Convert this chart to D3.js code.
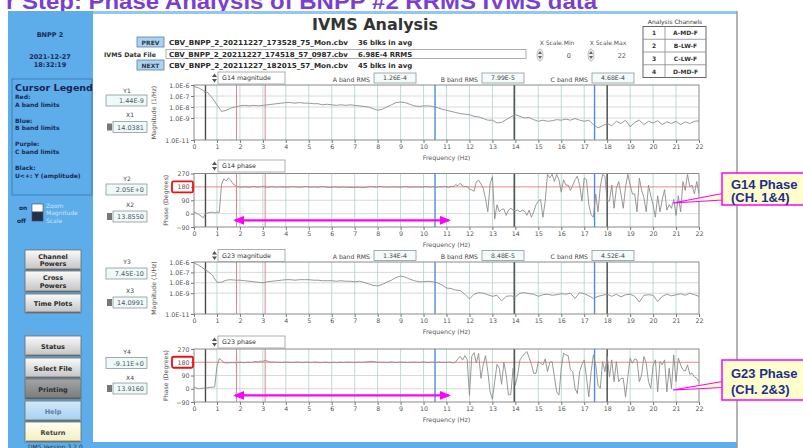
<!DOCTYPE html>
<html>
<head>
<meta charset="utf-8">
<script src="https://cdn.jsdelivr.net/npm/d3@7/dist/d3.min.js"></script>
<style>
  body { margin: 0; background: #fff; overflow: hidden; }
  svg { display: block; font-family: "DejaVu Sans", Verdana, sans-serif; }
</style>
</head>
<body>
<svg id="chart" width="803" height="448"></svg>
<script>
// ---------- data ----------
const freqTicks = [0,1,2,3,4,5,6,7,8,9,10,11,12,13,14,15,16,17,18,19,20,21,22];
const magTicks = [1e-6, 1e-7, 1e-8, 1e-9, 1e-11];
const magTickLabels = ['1.0E-6','1.0E-7','1.0E-8','1.0E-9','1.0E-11'];
const phaseTicks = [270, 180, 90, 0, -90];
const magStep = 0.2;   // Hz between magnitude samples
const phaseStep = 0.1; // Hz between phase samples

// log10 of magnitude, 0..22 Hz every 0.2 Hz
const g14MagExp = [
  -6.15,-6.25,-6.5,-6.7,-7.2,-7.8,-8.4,-8.3,-8.1,-8.0,
  -7.9,-7.85,-7.9,-7.85,-7.9,-7.85,-7.8,-7.75,-7.7,-7.65,
  -7.6,-7.6,-7.65,-7.6,-7.65,-7.65,-7.7,-7.7,-7.8,-7.75,
  -7.8,-7.85,-7.8,-7.85,-7.8,-7.85,-7.9,-7.95,-8.0,-8.15,
  -8.3,-8.2,-8.0,-7.8,-7.6,-7.55,-7.6,-7.75,-7.9,-7.95,
  -7.9,-7.9,-7.95,-8.05,-8.2,-8.3,-8.4,-8.5,-8.6,-8.65,
  -8.7,-8.85,-8.9,-9.05,-9.2,-9.2,-9.45,-9.4,-9.15,-8.9,
  -8.7,-8.85,-9.0,-8.95,-9.15,-9.3,-9.2,-9.3,-9.25,-9.15,
  -9.2,-9.1,-9.2,-9.05,-9.2,-9.3,-9.2,-9.6,-9.9,-9.7,
  -9.5,-9.7,-9.3,-9.5,-9.2,-9.8,-9.4,-9.2,-9.6,-9.3,
  -9.45,-9.25,-9.6,-9.35,-9.5,-9.3,-9.6,-9.35,-9.5,-9.3,
  -9.25
];
const g23MagExp = [
  -6.1,-6.3,-6.6,-6.9,-7.25,-7.95,-7.95,-7.75,-7.7,-7.75,
  -7.75,-7.8,-7.85,-7.9,-7.95,-8.0,-7.9,-7.85,-7.8,-7.75,
  -7.7,-7.7,-7.75,-7.7,-7.7,-7.7,-7.75,-7.75,-7.8,-7.8,
  -7.8,-7.85,-7.8,-7.85,-7.85,-7.9,-7.85,-7.95,-8.1,-8.25,
  -8.3,-8.15,-7.95,-7.75,-7.5,-7.35,-7.45,-7.65,-7.8,-7.9,
  -7.9,-7.85,-7.9,-8.0,-8.2,-8.5,-8.55,-8.7,-8.75,-9.1,
  -9.55,-9.1,-8.95,-9.0,-9.15,-9.3,-9.2,-9.75,-9.3,-9.25,
  -9.35,-9.0,-8.95,-9.05,-9.1,-9.3,-9.15,-9.1,-9.2,-9.15,
  -9.05,-9.1,-9.0,-9.5,-8.95,-9.05,-9.25,-9.5,-9.3,-9.2,
  -9.1,-9.3,-9.1,-9.35,-9.15,-9.1,-9.3,-9.85,-9.2,-9.15,
  -9.2,-9.8,-9.3,-9.1,-9.25,-9.15,-9.05,-9.2,-9.0,-9.15,
  -9.3
];

// phase in degrees, 0..22 Hz every 0.1 Hz
const g14Phase = [
  10,5,-5,-15,-28,0,5,8,10,5,
  10,8,195,235,220,240,225,200,188,182,
  180,178,182,180,177,180,183,180,178,181,
  184,180,177,180,182,180,178,180,181,179,
  180,178,180,182,180,179,177,180,181,183,
  180,178,180,179,177,180,182,180,178,176,
  178,180,179,177,178,180,178,176,177,175,
  176,178,177,175,176,178,180,182,180,178,
  180,183,181,179,180,178,180,181,179,180,
  178,180,182,180,178,180,179,181,180,178,
  180,182,180,178,181,180,176,182,178,184,
  180,177,185,180,195,188,205,185,182,183,
  165,160,150,215,225,
  200,170,100,12,200,250,-36,60,12,29,
  31,-12,24,36,24,17,24,12,24,17,
  -12,24,-24,12,60,84,96,-24,84,264,
  240,265,216,264,228,144,228,192,192,156,
  192,228,252,192,84,240,228,60,-7,-24,
  132,12,180,264,252,84,84,192,36,168,
  216,132,36,180,265,192,132,132,12,240,
  156,108,12,192,120,60,-24,120,12,96,
  161,24,60,36,96,-12,120,12,216,156,
  264,180,192,132,216,132
];
const g23Phase = [
  12,5,0,2,5,5,8,10,10,12,
  150,205,195,178,175,176,177,178,176,178,
  180,178,177,179,180,178,182,185,182,188,
  186,193,188,182,180,182,179,180,178,180,
  181,179,180,178,180,182,180,178,179,181,
  180,178,180,181,179,177,178,180,179,176,
  178,180,177,179,180,178,180,181,179,180,
  178,180,181,179,180,182,184,186,185,182,
  180,181,179,180,178,180,182,180,178,180,
  181,179,180,178,180,179,181,180,178,180,
  182,180,178,180,181,179,180,182,178,180,
  177,182,178,175,182,205,220,195,225,200,
  -45,220,245,175,240,
  71,162,225,116,-21,-71,48,166,139,30,
  180,93,-43,-39,139,25,93,196,219,237,
  253,212,166,105,105,185,173,162,203,116,
  180,185,82,-21,-43,139,242,230,225,128,
  116,2,-32,116,166,196,75,-55,116,230,
  162,25,2,185,116,219,82,196,48,185,
  48,71,71,-55,82,207,173,203,196,48,
  93,219,173,48,2,157,196,-21,185,162,
  196,-21,139,2,230,48,207,162,128,121,
  162,98,105,82,71,48
];

const plotNames = ['G14 magnitude', 'G14 phase', 'G23 magnitude', 'G23 phase'];
const rmsLabels = ['A band RMS', 'B band RMS', 'C band RMS'];
const g14Rms = ['1.26E-4', '7.99E-5', '4.68E-4'];
const g23Rms = ['1.34E-4', '8.48E-5', '4.52E-4'];
const cursorYNames = ['Y1', 'Y2', 'Y3', 'Y4'];
const cursorYValues = ['1.44E-9', '2.05E+0', '7.45E-10', '-9.11E+0'];
const cursorXNames = ['X1', 'X2', 'X3', 'X4'];
const cursorXValues = ['14.0381', '13.8550', '14.0991', '13.9160'];
const cursorFreqs = [0.5, 1.85, 3.1, 10.5, 13.95, 17.45, 18.0];
const cursorKinds = ['black', 'red', 'red', 'blue', 'black', 'blue', 'black'];
const bandArrow = [1.8, 11.1];   // Hz, highlighted flat band
const arrowPhase = -45;          // deg, height of the arrow
const channelNums = ['1', '2', '3', '4'];
const channelNames = ['A-MD-F', 'B-LW-F', 'C-LW-F', 'D-MD-F'];
const fileNames = ['CBV_BNPP_2_20211227_173528_75_Mon.cbv', 'CBV_BNPP_2_20211227_174518_57_0987.cbv', 'CBV_BNPP_2_20211227_182015_57_Mon.cbv'];
const fileNotes = ['36 blks in avg', '6.98E-4 RRMS', '45 blks in avg'];
const legendLines = ['Red:', 'A band limits', 'Blue:', 'B band limits', 'Purple:', 'C band limits', 'Black:', 'U<+: Y (amplitude)'];
const buttonsTop = [['Channel', 'Powers'], ['Cross', 'Powers'], ['Time Plots']];
const buttonsBottom = ['Status', 'Select File', 'Printing', 'Help', 'Return'];

// ---------- drawing ----------
const svg = d3.select('#chart');
const defs = svg.append('defs');
const blue = '#5dadea';

const grad = (id, c1, c2) => {
  const g = defs.append('linearGradient').attr('id', id)
    .attr('x1', 0).attr('y1', 0).attr('x2', 0).attr('y2', 1);
  g.append('stop').attr('offset', '0%').attr('stop-color', c1);
  g.append('stop').attr('offset', '100%').attr('stop-color', c2);
};
grad('btnGrey', '#fbfbfb', '#c2c2c2');
grad('btnDark', '#a4a4a4', '#7a7a7a');
grad('btnHelp', '#d2e9f8', '#a6d0ee');
grad('btnReturn', '#fffff2', '#f3eec0');

const txt = (x, y, s, size, fill = '#333', weight = 'normal', anchor = 'start') =>
  svg.append('text').attr('x', x).attr('y', y).attr('font-size', size)
    .attr('fill', fill).attr('font-weight', weight).attr('text-anchor', anchor).text(s);
const rect = (x, y, w, h, fill, stroke = 'none', sw = 1) =>
  svg.append('rect').attr('x', x).attr('y', y).attr('width', w).attr('height', h)
    .attr('fill', fill).attr('stroke', stroke).attr('stroke-width', sw);

// slide title (cut off at the top)
txt(6, 9, 'r Step: Phase Analysis of BNPP #2 RRMS IVMS data', 22, '#7b3fd0', 'bold')
  .attr('font-family', 'Liberation Sans, Arial, sans-serif')
  .attr('textLength', 591).attr('lengthAdjust', 'spacingAndGlyphs');

// application window
rect(8, 11, 729, 437, '#fff');
rect(8, 11, 729, 3, '#8fc9f1');
rect(8, 11, 85, 437, blue);
rect(8, 442, 729, 6, blue);
svg.append('line').attr('x1', 737).attr('x2', 737).attr('y1', 11).attr('y2', 448)
  .attr('stroke', '#9a9a9a').attr('stroke-width', 1.5);

txt(50, 37, 'BNPP 2', 6.5, '#1c2a55', 'bold', 'middle');
txt(50, 59, '2021-12-27', 6.5, '#1c2a55', 'bold', 'middle');
txt(50, 67, '18:32:19', 6.5, '#1c2a55', 'bold', 'middle');

// cursor legend
rect(12, 79, 80, 116, blue, '#3f80b9', 1);
txt(15, 91, 'Cursor Legend', 9.5, '#1a2550', 'bold');
const legendY = [99, 106.5, 122.5, 130, 146, 153.5, 170, 178];
legendLines.forEach((s, i) => txt(15, legendY[i], s, 6, '#1c2a55', 'bold'));

// zoom switch
txt(19, 210, 'on', 6, '#1c2a55', 'bold');
txt(17, 223, 'off', 6, '#1c2a55', 'bold');
rect(32, 204, 11, 8, '#fff', '#446', 0.6);
rect(32, 212, 11, 9, '#263045', '#446', 0.6);
['Zoom', 'Magnitude', 'Scale'].forEach((s, i) => txt(46, 208 + i * 7.3, s, 6, '#d4e2f0'));

// buttons
const button = (y, h, lines, fill, color) => {
  rect(25, y, 56, h, `url(#${fill})`, '#6a6a6a', 0.8);
  svg.append('line').attr('x1', 26).attr('x2', 80).attr('y1', y + h - 0.8).attr('y2', y + h - 0.8)
    .attr('stroke', '#555').attr('stroke-width', 1);
  lines.forEach((s, i) => txt(53, y + h / 2 + 2.5 + (i - (lines.length - 1) / 2) * 7.5, s, 6.5, color, 'bold', 'middle'));
};
const topBtnY = [[250, 20], [271, 21], [294, 19]];
buttonsTop.forEach((b, i) => button(topBtnY[i][0], topBtnY[i][1], b, 'btnGrey', '#2a2a2a'));
const botBtnY = [336, 358, 379, 401, 422];
const botBtnFill = ['btnGrey', 'btnGrey', 'btnDark', 'btnHelp', 'btnReturn'];
const botBtnColor = ['#2a2a2a', '#2a2a2a', '#2a2a2a', '#5a7fa8', '#444'];
buttonsBottom.forEach((b, i) => button(botBtnY[i], 20, [b], botBtnFill[i], botBtnColor[i]));
txt(28, 449, 'DMS Version 3.2.0', 6, '#333');

// header
txt(375, 30, 'IVMS Analysis', 16, '#333', 'bold', 'middle')
  .attr('textLength', 126).attr('lengthAdjust', 'spacingAndGlyphs');
const fileY = [45, 56.5, 68];
rect(137, 37, 27, 10, '#a8d4f2', '#5e7f9c', 0.8);
txt(150.5, 44.5, 'PREV', 6, '#334', 'bold', 'middle');
rect(137, 60, 27, 10, '#a8d4f2', '#5e7f9c', 0.8);
txt(150.5, 67.5, 'NEXT', 6, '#334', 'bold', 'middle');
txt(104, 56.5, 'IVMS Data File', 6.3, '#333', 'bold');
rect(166, 49.5, 360, 9, '#fff', '#999', 0.8);
fileNames.forEach((s, i) => {
  txt(169, fileY[i], s, 6.9, '#2a2a2a', 'bold').attr('textLength', 179).attr('lengthAdjust', 'spacingAndGlyphs');
  txt(358, fileY[i], fileNotes[i], 6.9, '#2a2a2a', 'bold');
});

// x scale controls
txt(557, 45, 'X Scale.Min', 6, '#555', 'normal', 'middle');
txt(608, 45, 'X Scale.Max', 6, '#555', 'normal', 'middle');
const spinner = (cx, cy) => {
  svg.append('ellipse').attr('cx', cx).attr('cy', cy).attr('rx', 3).attr('ry', 6)
    .attr('fill', '#eee').attr('stroke', '#999').attr('stroke-width', 0.6);
  svg.append('path').attr('d', `M${cx - 2},${cy - 1} l2,-3 l2,3 z M${cx - 2},${cy + 1} l2,3 l2,-3 z`).attr('fill', '#666');
};
spinner(540, 55);
spinner(591, 55);
txt(571, 58, '0', 6.5, '#555', 'normal', 'end');
txt(626, 58, '22', 6.5, '#555', 'normal', 'end');

// analysis channels table
txt(675, 23.5, 'Analysis Channels', 6, '#333', 'normal', 'middle');
rect(643, 26.5, 63, 51, '#fff', '#666', 1);
channelNums.forEach((n, i) => {
  const y = 26.5 + i * 12.75;
  if (i > 0) svg.append('line').attr('x1', 643).attr('x2', 706).attr('y1', y).attr('y2', y).attr('stroke', '#888').attr('stroke-width', 0.8);
  txt(654, y + 8.8, n, 6, '#333', 'bold', 'middle');
  txt(685.5, y + 8.8, channelNames[i], 6, '#333', 'bold', 'middle');
});
svg.append('line').attr('x1', 665).attr('x2', 665).attr('y1', 26.5).attr('y2', 77.5).attr('stroke', '#888').attr('stroke-width', 0.8);

// ---------- plots ----------
const x = d3.scaleLinear().domain([0, 22]).range([194, 699]);
const plotTop = [85, 173.5, 262, 349];
const plotBottom = [140, 227, 314, 402];
const nameBoxTop = [72, 160, 249.5, 336];
const rmsBoxTop = [73, null, 250.5, null];
const yLabelY = [93, 181, 264, 354];
const yBoxTop = [95, 184, 268, 357.5];
const xLabelY = [117, 207, 293, 380];
const xBoxTop = [121.5, 211, 297, 383];
const cursorColor = {black: '#4a4a4a', red: '#e8808c', blue: '#4d8fd6'};
const plotDefs = [
  {kind: 'mag', values: g14MagExp, rms: g14Rms},
  {kind: 'phase', values: g14Phase},
  {kind: 'mag', values: g23MagExp, rms: g23Rms},
  {kind: 'phase', values: g23Phase}
];

defs.append('marker').attr('id', 'arrowHead').attr('viewBox', '0 0 10 8')
  .attr('refX', 8).attr('refY', 4).attr('markerWidth', 11).attr('markerHeight', 9)
  .attr('markerUnits', 'userSpaceOnUse').attr('orient', 'auto-start-reverse')
  .append('path').attr('d', 'M0,0 L10,4 L0,8 z').attr('fill', '#ff00ff');

plotDefs.forEach((p, i) => {
  const top = plotTop[i], bottom = plotBottom[i];
  const y = p.kind === 'mag'
    ? d3.scaleLog().domain([1e-11, 1e-6]).range([bottom, top])
    : d3.scaleLinear().domain([-90, 270]).range([bottom, top]);
  const g = svg.append('g');

  // header: name box with spinner
  svg.append('path').attr('d', `M212,${nameBoxTop[i] + 5} l2.5,-3.5 l2.5,3.5 z M212,${nameBoxTop[i] + 7} l2.5,3.5 l2.5,-3.5 z`).attr('fill', '#555');
  rect(218, nameBoxTop[i], 67, 12, '#fff', '#999', 0.8);
  txt(222, nameBoxTop[i] + 8.3, plotNames[i], 6.3, '#333');
  if (p.rms) {
    const boxX = [374, 482, 592];
    p.rms.forEach((v, k) => {
      txt(boxX[k] - 4, rmsBoxTop[i] + 8.5, rmsLabels[k], 6.2, '#444', 'normal', 'end');
      rect(boxX[k], rmsBoxTop[i], 42, 10, '#f3fbfb', '#8a9a9a', 0.8);
      txt(boxX[k] + 21, rmsBoxTop[i] + 7.3, v, 6.2, '#444', 'normal', 'middle');
    });
  }

  // cursor readouts
  txt(127, yLabelY[i], cursorYNames[i], 6, '#444', 'normal', 'middle');
  rect(106, yBoxTop[i], 41, 11, '#eef9f9', '#8a9a9a', 0.8);
  txt(144, yBoxTop[i] + 8, cursorYValues[i], 6.5, '#556', 'normal', 'end');
  txt(130, xLabelY[i], cursorXNames[i], 6, '#444', 'normal', 'middle');
  rect(107, xBoxTop[i] + 2, 5, 7, '#777');
  rect(113, xBoxTop[i], 34, 11, '#eef9f9', '#8a9a9a', 0.8);
  txt(144, xBoxTop[i] + 8, cursorXValues[i], 6.5, '#556', 'normal', 'end');

  // frame and grid
  g.append('rect').attr('x', x(0)).attr('y', top).attr('width', x(22) - x(0)).attr('height', bottom - top)
    .attr('fill', '#fff');
  g.selectAll('.vgrid').data(freqTicks.slice(1, -1)).join('line')
    .attr('x1', d => x(d)).attr('x2', d => x(d)).attr('y1', top).attr('y2', bottom)
    .attr('stroke', '#a9d6cf').attr('stroke-width', 0.8);
  const hTicks = p.kind === 'mag' ? magTicks.slice(1, -1) : phaseTicks.slice(1, -1);
  g.selectAll('.hgrid').data(hTicks).join('line')
    .attr('x1', x(0)).attr('x2', x(22)).attr('y1', d => y(d)).attr('y2', d => y(d))
    .attr('stroke', d => (p.kind === 'phase' && d === 180) ? '#e46a6a' : '#c9c9c9')
    .attr('stroke-width', d => (p.kind === 'phase' && d === 180) ? 0.8 : 0.7);

  // band cursors
  g.selectAll('.cursor').data(cursorFreqs).join('line')
    .attr('x1', d => x(d)).attr('x2', d => x(d)).attr('y1', top).attr('y2', bottom)
    .attr('stroke', (d, k) => cursorColor[cursorKinds[k]])
    .attr('stroke-width', (d, k) => cursorKinds[k] === 'red' ? 1 : 1.4);

  // trace
  const clipId = 'clip' + i;
  defs.append('clipPath').attr('id', clipId).append('rect')
    .attr('x', x(0)).attr('y', top).attr('width', x(22) - x(0)).attr('height', bottom - top);
  const step = p.kind === 'mag' ? magStep : phaseStep;
  const line = d3.line()
    .x((d, k) => x(k * step))
    .y(d => p.kind === 'mag' ? y(Math.pow(10, d)) : y(d));
  g.append('path').datum(p.values).attr('d', line).attr('clip-path', `url(#${clipId})`)
    .attr('fill', 'none').attr('stroke', '#8c8c8c').attr('stroke-width', 0.9);

  g.append('rect').attr('x', x(0)).attr('y', top).attr('width', x(22) - x(0)).attr('height', bottom - top)
    .attr('fill', 'none').attr('stroke', '#8a8a8a').attr('stroke-width', 1);

  // axes
  const yAxis = p.kind === 'mag'
    ? d3.axisLeft(y).tickValues(magTicks).tickFormat((d, k) => magTickLabels[k])
    : d3.axisLeft(y).tickValues(phaseTicks).tickFormat(d3.format('d'));
  const gy = g.append('g').attr('transform', `translate(${x(0)},0)`)
    .call(yAxis.tickSize(3).tickPadding(1.5));
  gy.select('.domain').remove();
  gy.selectAll('text').attr('font-size', 6.3).attr('fill', '#555').attr('font-family', 'DejaVu Sans, sans-serif');
  gy.selectAll('line').attr('stroke', '#777');

  const gx = g.append('g').attr('transform', `translate(0,${bottom})`)
    .call(d3.axisBottom(x).tickValues(freqTicks).tickSize(3).tickPadding(2));
  gx.select('.domain').remove();
  gx.selectAll('text').attr('font-size', 6.3).attr('fill', '#555').attr('font-family', 'DejaVu Sans, sans-serif');
  gx.selectAll('line').attr('stroke', '#777');

  txt((x(0) + x(22)) / 2, bottom + 20, 'Frequency (Hz)', 6.3, '#555', 'normal', 'middle');
  const ylx = p.kind === 'mag' ? 156 : 168;
  txt(0, 0, p.kind === 'mag' ? 'Magnitude (1/Hz)' : 'Phase (Degrees)', 6.2, '#555', 'normal', 'middle')
    .attr('transform', `translate(${ylx},${(top + bottom) / 2}) rotate(-90)`);

  if (p.kind === 'phase') {
    // red box round the 180 label
    svg.append('rect').attr('x', 172).attr('y', y(180) - 5.5).attr('width', 21).attr('height', 11)
      .attr('rx', 1.5).attr('fill', 'none').attr('stroke', '#ee1111').attr('stroke-width', 1.8);
    // magenta double arrow over the flat band
    svg.append('line')
      .attr('x1', x(bandArrow[0])).attr('x2', x(bandArrow[1]))
      .attr('y1', y(arrowPhase)).attr('y2', y(arrowPhase))
      .attr('stroke', '#ff00ff').attr('stroke-width', 2.3)
      .attr('marker-start', 'url(#arrowHead)').attr('marker-end', 'url(#arrowHead)');
  }
});

// ---------- callouts ----------
const callout = (boxY, boxH, pointer, lines, baselines) => {
  svg.append('polygon').attr('points', pointer.map(p => p.join(',')).join(' '))
    .attr('fill', '#ffffcc').attr('stroke', '#ff00ff').attr('stroke-width', 1.1);
  rect(722, boxY, 90, boxH, '#ffffcc', '#ff00ff', 1.5);
  lines.forEach((s, i) => txt(731, baselines[i], s, 13, '#1c2d8f', 'bold')
    .attr('font-family', 'Liberation Sans, Arial, sans-serif'));
};
callout(173, 32, [[722.5, 193.5], [673, 203], [722.5, 200]], ['G14 Phase', '(CH. 1&4)'], [188.5, 202]);
callout(360, 40, [[722.5, 381.5], [673, 390], [722.5, 387.5]], ['G23 Phase', '(CH. 2&3)'], [378, 394]);
</script>
</body>
</html>
